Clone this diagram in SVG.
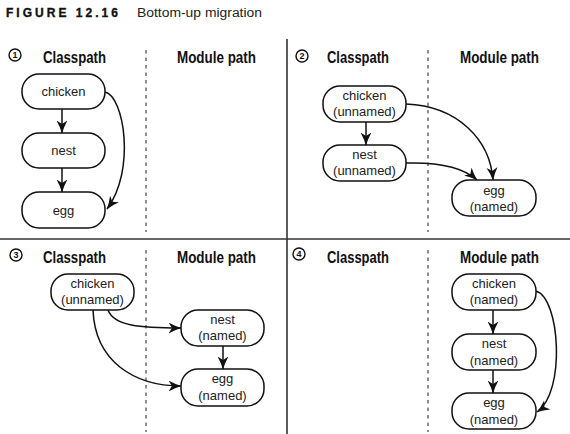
<svg xmlns="http://www.w3.org/2000/svg" width="570" height="434" viewBox="0 0 570 434">
<defs>
<marker id="ah" markerUnits="userSpaceOnUse" markerWidth="14" markerHeight="12" refX="12.5" refY="5.5" orient="auto">
<path d="M0,0 Q6,3.5 13,5.5 Q6,7.5 0,11 L3.5,5.5 Z" fill="#111"/>
</marker>
<style>
.title{font-family:"Liberation Sans",Arial,sans-serif;font-weight:bold;font-size:12px;fill:#111;stroke:#111;stroke-width:0.35}
.sub{font-family:"Liberation Sans",Arial,sans-serif;font-size:12px;fill:#222}
.head{font-family:"Liberation Sans",Arial,sans-serif;font-weight:bold;font-size:16px;fill:#111}
.num{font-family:"Liberation Sans",Arial,sans-serif;font-weight:bold;font-size:9px;fill:#111;text-anchor:middle}
.lbl{font-family:"Liberation Sans",Arial,sans-serif;font-size:13px;fill:#222;text-anchor:middle}
.box{fill:#fff;stroke:#111;stroke-width:1.5}
.circ{fill:#fff;stroke:#111;stroke-width:1.4}
.div{stroke:#333;stroke-width:1.6;fill:none}
.dash{stroke:#444;stroke-width:1.2;stroke-dasharray:3.5,4;fill:none}
.edge{stroke:#111;stroke-width:1.5;fill:none;marker-end:url(#ah)}
</style>
</defs>
<rect width="570" height="434" fill="#fff"/>
<g id="title">
<text class="title" x="6" y="17" textLength="112" lengthAdjust="spacing">FIGURE 12.16</text>
<text class="sub" x="137" y="17" textLength="125" lengthAdjust="spacingAndGlyphs">Bottom-up migration</text>
</g>
<g id="frame">
<line class="div" x1="287" y1="39" x2="287" y2="434"/>
<line class="div" x1="0" y1="239" x2="570" y2="239"/>
<line class="dash" x1="146" y1="50" x2="146" y2="232"/>
<line class="dash" x1="428" y1="50" x2="428" y2="232"/>
<line class="dash" x1="146" y1="250" x2="146" y2="432"/>
<line class="dash" x1="428" y1="250" x2="428" y2="432"/>
</g>
<g id="headings">
<circle class="circ" cx="15" cy="55" r="6"/><text class="num" x="15" y="58.3">1</text>
<text class="head" x="43" y="63" textLength="63" lengthAdjust="spacingAndGlyphs">Classpath</text>
<text class="head" x="177" y="63" textLength="79" lengthAdjust="spacingAndGlyphs">Module path</text>
<circle class="circ" cx="302" cy="56" r="6"/><text class="num" x="302" y="59.3">2</text>
<text class="head" x="327" y="63" textLength="62" lengthAdjust="spacingAndGlyphs">Classpath</text>
<text class="head" x="460" y="63" textLength="79" lengthAdjust="spacingAndGlyphs">Module path</text>
<circle class="circ" cx="16" cy="255" r="6"/><text class="num" x="16" y="258.3">3</text>
<text class="head" x="43" y="263" textLength="63" lengthAdjust="spacingAndGlyphs">Classpath</text>
<text class="head" x="177" y="263" textLength="79" lengthAdjust="spacingAndGlyphs">Module path</text>
<circle class="circ" cx="299" cy="254" r="6"/><text class="num" x="299" y="257.3">4</text>
<text class="head" x="327" y="263" textLength="62" lengthAdjust="spacingAndGlyphs">Classpath</text>
<text class="head" x="460" y="263" textLength="79" lengthAdjust="spacingAndGlyphs">Module path</text>
</g>
<g id="connectors">
<line class="edge" x1="62" y1="109" x2="62" y2="133"/>
<line class="edge" x1="62" y1="168" x2="62" y2="192"/>
<path class="edge" d="M105,92 C124,96 136,170 107,209"/>
<line class="edge" x1="366" y1="122" x2="366" y2="145"/>
<path class="edge" d="M406,104 C458,106 490,140 493,180"/>
<path class="edge" d="M406,163 C440,162 464,168 477,180"/>
<path class="edge" d="M108,310 C114,326 140,328 181,328"/>
<path class="edge" d="M93,310 C95,362 135,386 181,386"/>
<line class="edge" x1="223" y1="346" x2="223" y2="369"/>
<line class="edge" x1="493" y1="310" x2="493" y2="334"/>
<line class="edge" x1="493" y1="370" x2="493" y2="393"/>
<path class="edge" d="M536,291 C560,298 566,392 537,412"/>
</g>
<g id="q1-chicken"><rect class="box" x="22" y="74" width="83" height="35" rx="17"/><text class="lbl" x="63.5" y="96">chicken</text></g>
<g id="q1-nest"><rect class="box" x="22" y="133" width="83" height="35" rx="17"/><text class="lbl" x="63.5" y="155">nest</text></g>
<g id="q1-egg"><rect class="box" x="22" y="192" width="83" height="36" rx="17"/><text class="lbl" x="63.5" y="215">egg</text></g>
<g id="q2-chicken"><rect class="box" x="323" y="86" width="83" height="36" rx="17"/><text class="lbl" x="364.5" y="100">chicken</text><text class="lbl" x="364.5" y="116">(unnamed)</text></g>
<g id="q2-nest"><rect class="box" x="323" y="145" width="83" height="36" rx="17"/><text class="lbl" x="364.5" y="159">nest</text><text class="lbl" x="364.5" y="175">(unnamed)</text></g>
<g id="q2-egg"><rect class="box" x="452" y="180" width="84" height="36" rx="17"/><text class="lbl" x="494" y="195">egg</text><text class="lbl" x="494" y="211">(named)</text></g>
<g id="q3-chicken"><rect class="box" x="51" y="274" width="83" height="36" rx="17"/><text class="lbl" x="92.5" y="288">chicken</text><text class="lbl" x="92.5" y="304">(unnamed)</text></g>
<g id="q3-nest"><rect class="box" x="181" y="310" width="83" height="36" rx="17"/><text class="lbl" x="222.5" y="324">nest</text><text class="lbl" x="222.5" y="340">(named)</text></g>
<g id="q3-egg"><rect class="box" x="181" y="369" width="83" height="37" rx="17"/><text class="lbl" x="222.5" y="383">egg</text><text class="lbl" x="222.5" y="400">(named)</text></g>
<g id="q4-chicken"><rect class="box" x="452" y="274" width="84" height="36" rx="17"/><text class="lbl" x="494" y="288">chicken</text><text class="lbl" x="494" y="304">(named)</text></g>
<g id="q4-nest"><rect class="box" x="452" y="334" width="84" height="36" rx="17"/><text class="lbl" x="494" y="348">nest</text><text class="lbl" x="494" y="365">(named)</text></g>
<g id="q4-egg"><rect class="box" x="452" y="393" width="84" height="36" rx="17"/><text class="lbl" x="494" y="407">egg</text><text class="lbl" x="494" y="424">(named)</text></g>
</svg>
